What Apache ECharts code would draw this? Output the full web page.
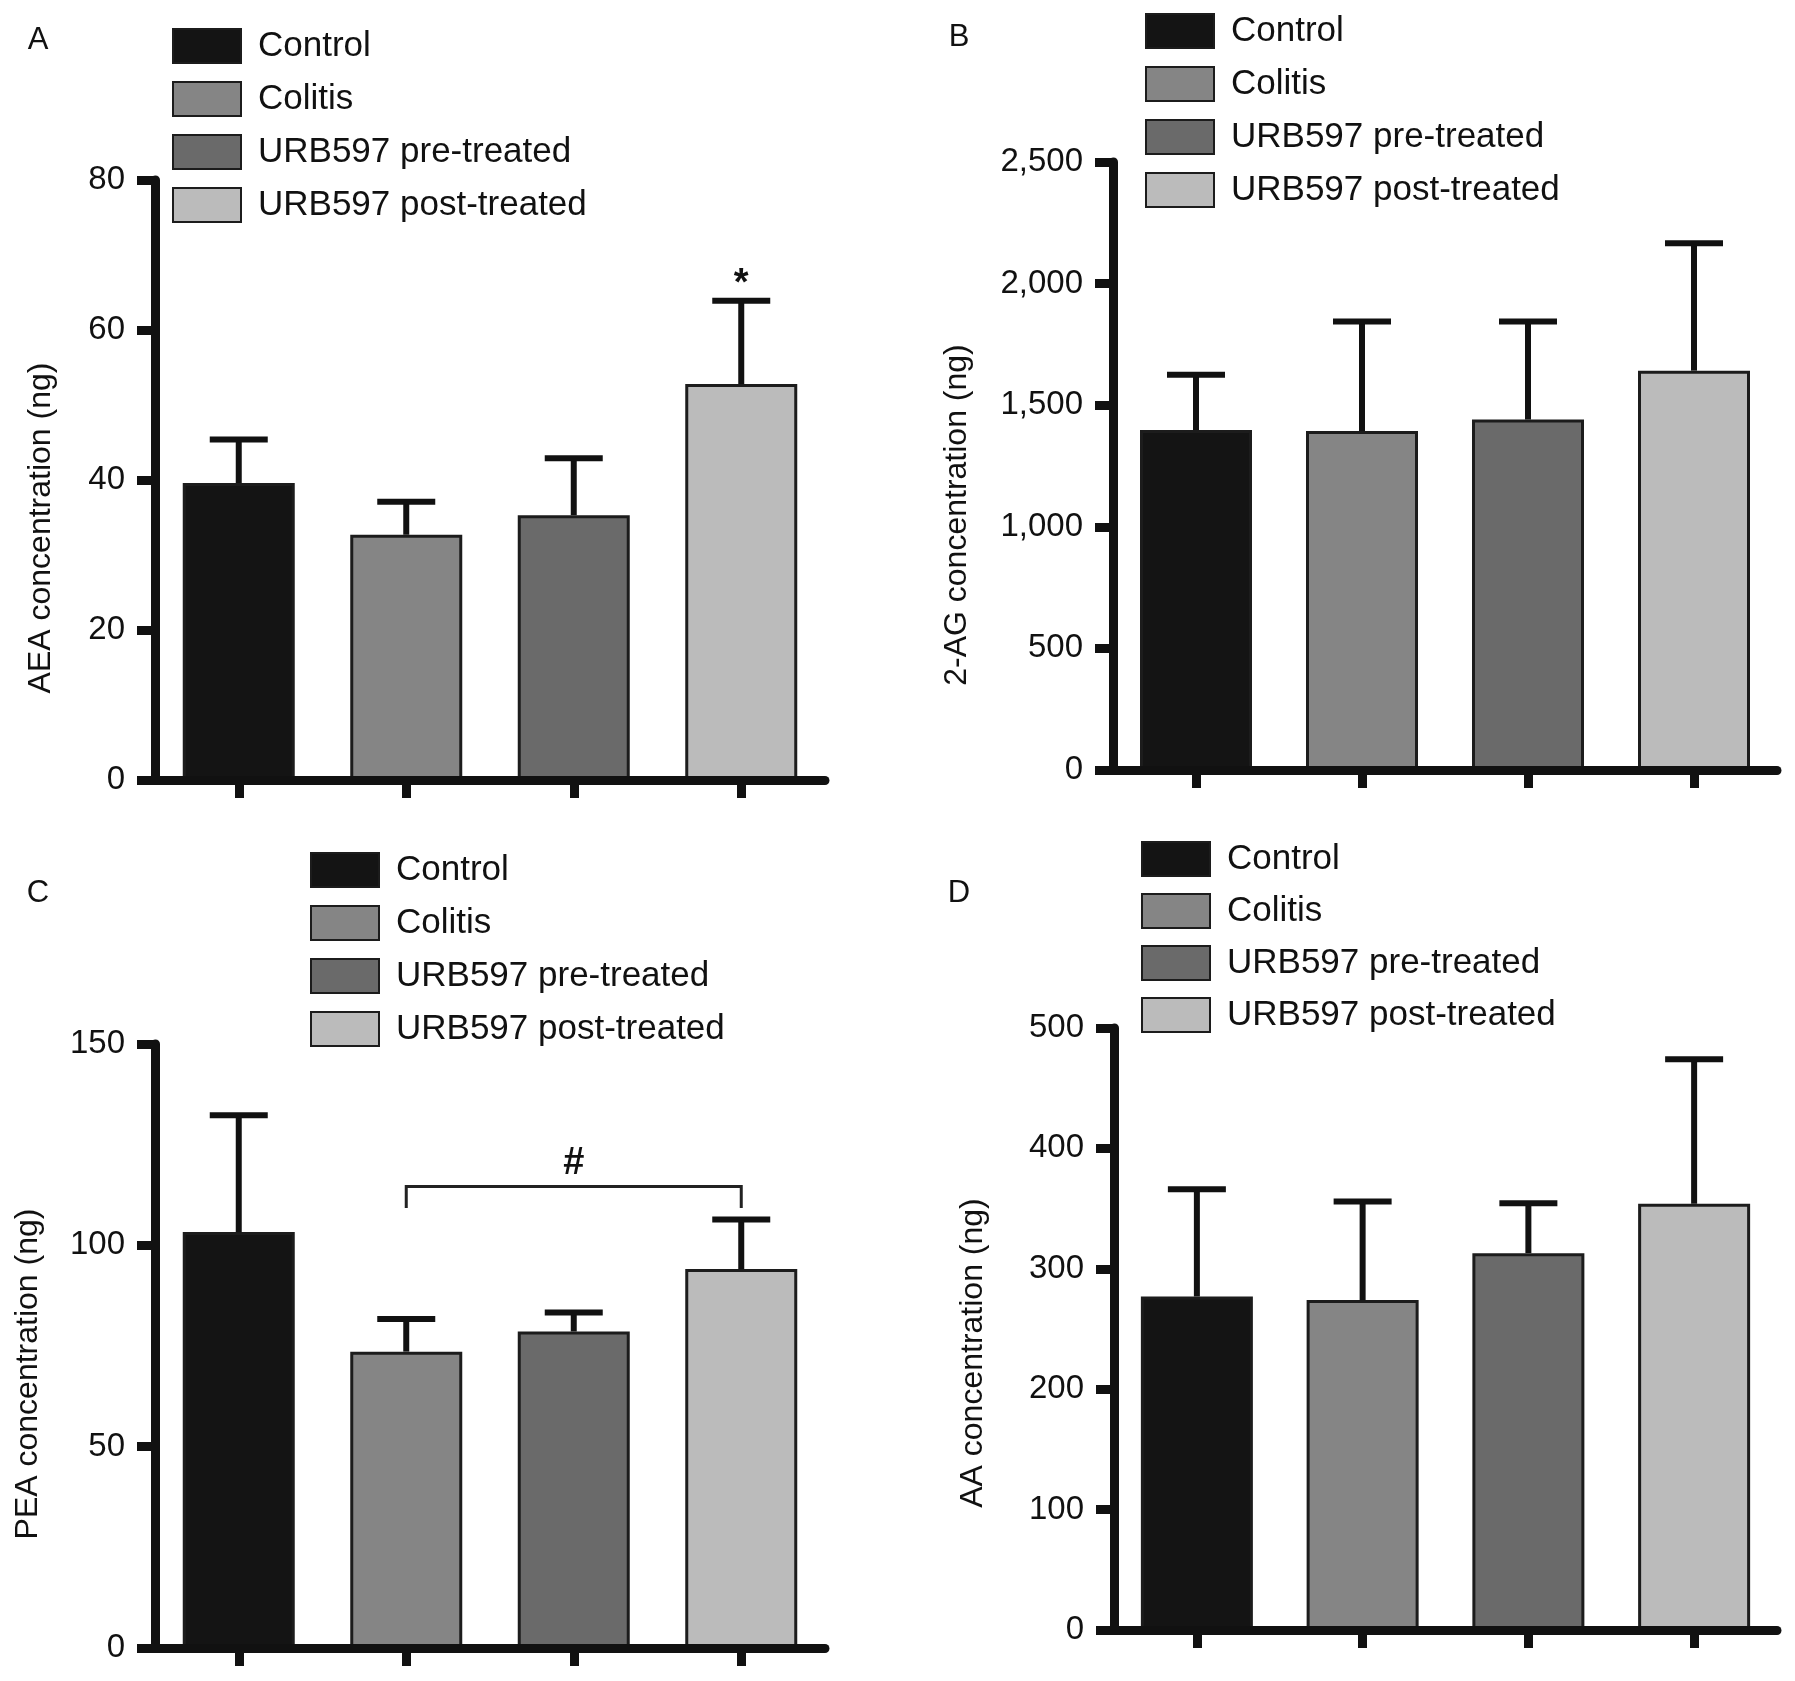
<!DOCTYPE html>
<html>
<head>
<meta charset="utf-8">
<script src="https://cdn.jsdelivr.net/npm/echarts@6/dist/echarts.min.js"></script>
<style>
html,body{margin:0;padding:0;background:#fff;}
#chart{width:1795px;height:1681px;}
</style>
</head>
<body>
<div id="chart"></div>
<script>
// ---------- data ----------
const categories = ['Control', 'Colitis', 'URB597 pre-treated', 'URB597 post-treated'];

const aeaMean  = [39.6, 32.7, 35.3, 52.8];
const aeaUpper = [45.4, 37.1, 42.9, 63.9];

const agMean   = [1398, 1394, 1441, 1642];
const agUpper  = [1625, 1844, 1844, 2166];

const peaMean  = [103.3, 73.6, 78.6, 94.1];
const peaUpper = [132.3, 81.7, 83.3, 106.4];

const aaMean   = [277, 274, 313, 354];
const aaUpper  = [366, 356, 354.5, 474];

const ticksA = [0, 20, 40, 60, 80];
const ticksB = [0, 500, 1000, 1500, 2000, 2500];
const tickLabelsB = ['0', '500', '1,000', '1,500', '2,000', '2,500'];
const ticksC = [0, 50, 100, 150];
const ticksD = [0, 100, 200, 300, 400, 500];

const yTitles = ['AEA concentration (ng)', '2-AG concentration (ng)', 'PEA concentration (ng)', 'AA concentration (ng)'];
const panelLetters = ['A', 'B', 'C', 'D'];

const annotA = [[3, 66.0, '*']];
const annotC = [[2, 120.2, '#']];
const bracketC = [[1, 3, 114.6, 109.3]]; // from category, to category, top value, foot value

// ---------- styling / layout ----------
const FONT = "'Liberation Sans', Arial, Helvetica, sans-serif";
const barColors = ['#141414', '#858585', '#6a6a6a', '#bbbbbb'];
const INK = '#111111';

const panels = [
  { mean: aeaMean, upper: aeaUpper, ticks: ticksA, labels: null, annot: annotA, bracket: [],
    grid: { left: 155, top: 180, width: 670, height: 600 },
    legend: [172, 28, 17], letter: [38, 40], title: [41, 528] },
  { mean: agMean, upper: agUpper, ticks: ticksB, labels: tickLabelsB, annot: [], bracket: [],
    grid: { left: 1113, top: 162, width: 664, height: 608 },
    legend: [1145, 13, 17], letter: [959, 37], title: [957, 515] },
  { mean: peaMean, upper: peaUpper, ticks: ticksC, labels: null, annot: annotC, bracket: bracketC,
    grid: { left: 155, top: 1044, width: 670, height: 604 },
    legend: [310, 852, 17], letter: [38, 893], title: [28, 1374] },
  { mean: aaMean, upper: aaUpper, ticks: ticksD, labels: null, annot: [], bracket: [],
    grid: { left: 1114, top: 1028, width: 663, height: 602 },
    legend: [1141, 841, 16], letter: [959, 893], title: [973, 1353] }
];

const chart = echarts.init(document.getElementById('chart'), null, { renderer: 'canvas' });

const grids = [], xAxes = [], yAxes = [], series = [], legends = [], graphics = [];

panels.forEach((p, i) => {
  grids.push(Object.assign({ containLabel: false }, p.grid));
  xAxes.push({
    gridIndex: i, type: 'category', data: categories, z: 5,
    axisLine: { show: true, lineStyle: { color: INK, width: 9 } },
    axisTick: { show: true, alignWithLabel: true, length: 18, lineStyle: { color: INK, width: 9 } },
    axisLabel: { show: false }, splitLine: { show: false }
  });
  const t = p.ticks;
  yAxes.push({
    gridIndex: i, type: 'value', z: 5,
    min: t[0], max: t[t.length - 1], interval: t[1] - t[0],
    axisLine: { show: true, lineStyle: { color: INK, width: 9 } },
    axisTick: { show: true, length: 18, lineStyle: { color: INK, width: 9 } },
    splitLine: { show: false },
    axisLabel: {
      fontSize: 33, color: INK, fontFamily: FONT, margin: 30,
      formatter: function (v) {
        const k = t.indexOf(v);
        return (p.labels && k >= 0) ? p.labels[k] : String(v);
      }
    }
  });
  categories.forEach((c, g) => {
    series.push({
      type: 'bar', name: c, xAxisIndex: i, yAxisIndex: i, stack: 'p' + i,
      barWidth: 112,
      data: p.mean.map((v, k) => (k === g ? v : '-')),
      itemStyle: { color: barColors[g], borderColor: '#1c1c1c', borderWidth: 3 },
      emphasis: { disabled: true }
    });
  });
  // error bars (upper whisker only)
  series.push({
    type: 'custom', xAxisIndex: i, yAxisIndex: i, z: 4,
    data: p.mean.map((v, k) => [k, v, p.upper[k]]),
    encode: { x: 0, y: [1, 2] },
    renderItem: function (params, api) {
      const x = api.value(0);
      const a = api.coord([x, api.value(1)]);
      const b = api.coord([x, api.value(2)]);
      return {
        type: 'group', children: [
          { type: 'line', shape: { x1: a[0], y1: a[1], x2: b[0], y2: b[1] }, style: { stroke: INK, lineWidth: 6 } },
          { type: 'line', shape: { x1: b[0] - 29, y1: b[1], x2: b[0] + 29, y2: b[1] }, style: { stroke: INK, lineWidth: 6 } }
        ]
      };
    }
  });
  if (p.annot.length) {
    series.push({
      type: 'custom', xAxisIndex: i, yAxisIndex: i, z: 6,
      data: p.annot,
      encode: { x: 0, y: 1 },
      renderItem: function (params, api) {
        const pt = api.coord([api.value(0), api.value(1)]);
        return {
          type: 'text', x: pt[0], y: pt[1],
          style: { text: p.annot[params.dataIndex][2], fill: INK, fontSize: 38, fontWeight: 'bold',
                   fontFamily: FONT, align: 'center', verticalAlign: 'middle' }
        };
      }
    });
  }
  if (p.bracket.length) {
    series.push({
      type: 'custom', xAxisIndex: i, yAxisIndex: i, z: 6,
      data: p.bracket,
      encode: { x: [0, 1], y: [2, 3] },
      renderItem: function (params, api) {
        const a0 = api.coord([api.value(0), api.value(3)]);
        const a1 = api.coord([api.value(0), api.value(2)]);
        const b1 = api.coord([api.value(1), api.value(2)]);
        const b0 = api.coord([api.value(1), api.value(3)]);
        return {
          type: 'polyline',
          shape: { points: [a0, a1, b1, b0] },
          style: { stroke: '#222', lineWidth: 3, fill: null }
        };
      }
    });
  }
  legends.push({
    data: categories, orient: 'vertical', left: p.legend[0], top: p.legend[1],
    itemWidth: 68, itemHeight: 34, itemGap: p.legend[2], padding: 0, icon: 'rect',
    selectedMode: false,
    textStyle: { fontSize: 35, color: INK, fontFamily: FONT, padding: [0, 0, 0, 12] }
  });
  graphics.push({
    type: 'text', x: p.letter[0], y: p.letter[1],
    style: { text: panelLetters[i], fill: INK, fontSize: 31, fontFamily: FONT, align: 'center', verticalAlign: 'middle' }
  });
  graphics.push({
    type: 'text', x: p.title[0], y: p.title[1], rotation: Math.PI / 2,
    style: { text: yTitles[i], fill: INK, fontSize: 32, fontFamily: FONT, align: 'center', verticalAlign: 'middle' }
  });
});

chart.setOption({
  backgroundColor: '#ffffff',
  animation: false,
  grid: grids,
  xAxis: xAxes,
  yAxis: yAxes,
  legend: legends,
  series: series,
  graphic: graphics
});
</script>
</body>
</html>
